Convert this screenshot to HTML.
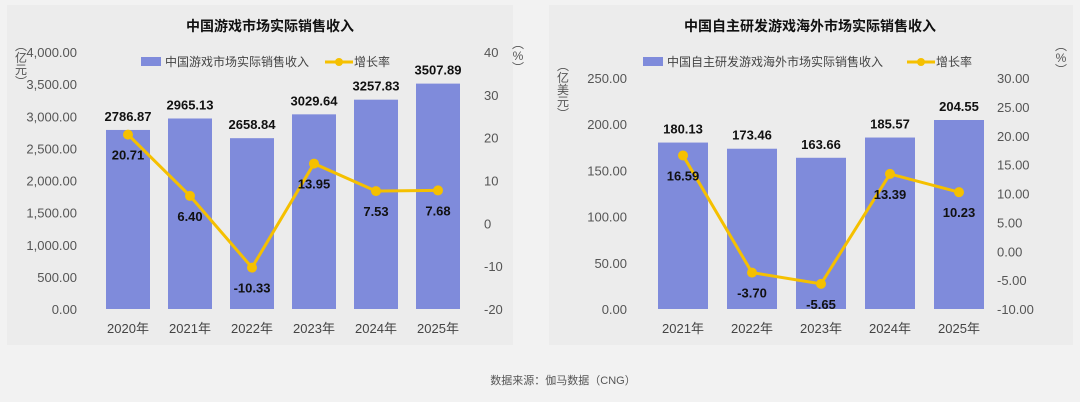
<!DOCTYPE html>
<html><head><meta charset="utf-8"><style>
body{margin:0;width:1080px;height:402px;background:#f2f2f2;overflow:hidden;font-family:"Liberation Sans","Noto Sans CJK SC",sans-serif;}
svg{display:block}
</style></head><body>
<svg id="s" width="1080" height="402">
<rect x="7" y="5" width="506" height="340" fill="#ececec"/>
<rect x="549" y="5" width="524" height="340" fill="#ececec"/>
<text x="270" y="31" text-anchor="middle" font-size="14" font-weight="bold" fill="#111">中国游戏市场实际销售收入</text>
<text x="810" y="31" text-anchor="middle" font-size="14" font-weight="bold" fill="#111">中国自主研发游戏海外市场实际销售收入</text>
<text x="563" y="384" text-anchor="middle" font-size="11" fill="#555">数据来源：伽马数据（CNG）</text>
<g id="g1"></g><g id="g2"></g>
</svg>
<script>
const cats1=["2020年","2021年","2022年","2023年","2024年","2025年"];
const rev1=[2786.87,2965.13,2658.84,3029.64,3257.83,3507.89];
const rate1=[20.71,6.40,-10.33,13.95,7.53,7.68];
const leftTicks1=["0.00","500.00","1,000.00","1,500.00","2,000.00","2,500.00","3,000.00","3,500.00","4,000.00"];
const rightTicks1=["-20","-10","0","10","20","30","40"];
const cats2=["2021年","2022年","2023年","2024年","2025年"];
const rev2=[180.13,173.46,163.66,185.57,204.55];
const rate2=[16.59,-3.70,-5.65,13.39,10.23];
const leftTicks2=["0.00","50.00","100.00","150.00","200.00","250.00"];
const rightTicks2=["-10.00","-5.00","0.00","5.00","10.00","15.00","20.00","25.00","30.00"];
const NS="http://www.w3.org/2000/svg";
function mk(p,t,a,txt){const e=document.createElementNS(NS,t);for(const k in a)e.setAttribute(k,a[k]);if(txt!=null)e.textContent=txt;p.appendChild(e);return e;}
function draw(g,c){
 const {cats,rev,rate,lt,rt,x0,band,bw,yTop,yBot,lmax,rmin,rmax,ltx,rtx}=c;
 const yL=v=>yBot-(v/lmax)*(yBot-yTop);
 const yR=v=>yBot-(v-rmin)/(rmax-rmin)*(yBot-yTop);
 const xc=i=>x0+band*(i+0.5);
 lt.forEach((t,i)=>{const e=mk(g,'text',{x:ltx,y:yL(lmax*i/(lt.length-1))+5,'text-anchor':'end','font-size':13,fill:'#555'},t);
  
  });
 rt.forEach((t,i)=>{const e=mk(g,'text',{x:rtx,y:yR(rmin+(rmax-rmin)*i/(rt.length-1))+5,'font-size':13,fill:'#555'},t);
  
  });
 cats.forEach((cn,i)=>{
  const b=mk(g,'rect',{x:xc(i)-bw/2,y:yL(rev[i]),width:bw,height:yBot-yL(rev[i]),fill:'#7f8bdb'});
  
  
  const l=mk(g,'text',{x:xc(i),y:yL(rev[i])-9,'text-anchor':'middle','font-size':13,'font-weight':'bold',fill:'#111'},rev[i].toFixed(2));
  
  
  const x=mk(g,'text',{x:xc(i),y:yBot+24,'text-anchor':'middle','font-size':13,fill:'#444'},cn);
  
  
 });
 const pl=mk(g,'polyline',{points:rate.map((v,i)=>xc(i)+','+yR(v)).join(' '),fill:'none',stroke:'#f5c000','stroke-width':3});
 
 
 rate.forEach((v,i)=>{
  const d=mk(g,'circle',{cx:xc(i),cy:yR(v),r:5,fill:'#f5c000'});
  
  
  const t=mk(g,'text',{x:xc(i),y:yR(v)+25,'text-anchor':'middle','font-size':13,'font-weight':'bold',fill:'#111'},v.toFixed(2));
  
  
 });
}
const g1=document.getElementById('g1'),g2=document.getElementById('g2');
draw(g1,{cats:cats1,rev:rev1,rate:rate1,lt:leftTicks1,rt:rightTicks1,x0:97,band:62,bw:44,yTop:52,yBot:309,lmax:4000,rmin:-20,rmax:40,ltx:77,rtx:484});
draw(g2,{cats:cats2,rev:rev2,rate:rate2,lt:leftTicks2,rt:rightTicks2,x0:648.5,band:69,bw:50,yTop:78,yBot:309,lmax:250,rmin:-10,rmax:30,ltx:627,rtx:997});
function legend(g,rx,txt,lx){
 let e=mk(g,'rect',{x:rx,y:57,width:20,height:9,fill:'#7f8bdb'});
 e=mk(g,'text',{x:rx+24,y:66,'font-size':12,fill:'#444'},txt);
 e=mk(g,'line',{x1:lx,y1:62,x2:lx+28,y2:62,stroke:'#f5c000','stroke-width':3});
 e=mk(g,'circle',{cx:lx+14,cy:62,r:4,fill:'#f5c000'});
 e=mk(g,'text',{x:lx+29,y:66,'font-size':12,fill:'#444'},'增长率');
}
legend(g1,141,'中国游戏市场实际销售收入',325);
legend(g2,643,'中国自主研发游戏海外市场实际销售收入',907);
function vtext(g,x,y,chars){
 const e=mk(g,'text',{'font-size':12,fill:'#555','text-anchor':'middle'});
 
 
 chars.forEach((ch,i)=>mk(e,'tspan',{x:x,y:y+i*12},ch));
}
vtext(g1,21,50,['︵','亿','元','︶']);vtext(g1,518,48,['︵','%','︶']);
vtext(g2,563,70,['︵','亿','美','元','︶']);vtext(g2,1061,50,['︵','%','︶']);
</script>
</body></html>
